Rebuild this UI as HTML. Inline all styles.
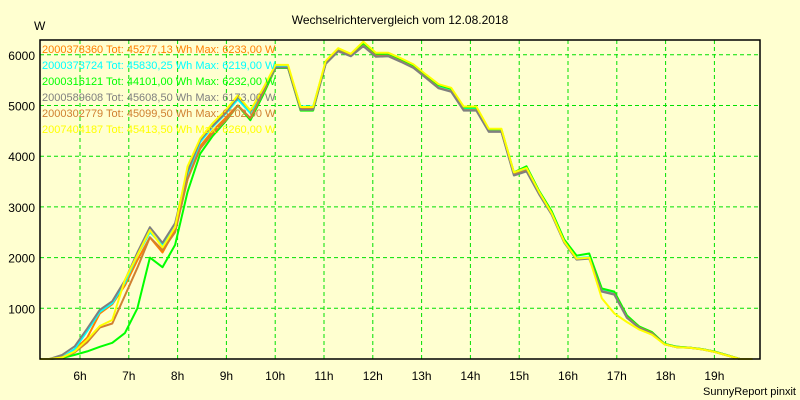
<!DOCTYPE html>
<html><head><meta charset="utf-8"><style>
html,body{margin:0;padding:0;background:#ffffd0;}
svg{display:block;font-family:"Liberation Sans",sans-serif;}
</style></head><body>
<svg id="chart" width="800" height="400" xmlns="http://www.w3.org/2000/svg">
<rect x="0" y="0" width="800" height="400" fill="#ffffd0"/>
<text x="400" y="24" text-anchor="middle" font-size="12" fill="#000">Wechselrichtervergleich vom 12.08.2018</text>
<text x="34" y="30" font-size="12" fill="#000">W</text>
<text x="796" y="395" text-anchor="end" font-size="11" fill="#000">SunnyReport pinxit</text>
<g id="grid"></g><g id="series"></g><g id="axes"></g><g id="legend"></g>
</svg>
<script>
const hourTicks=[6,7,8,9,10,11,12,13,14,15,16,17,18,19];
const yTicks=[1000,2000,3000,4000,5000,6000];
const seriesNames=["2000378360","2000373724","2000316121","2000589608","2000302779","2007404187"];
const seriesTotals=["45277,13","45830,25","44101,00","45608,50","45099,50","45413,50"];
const seriesMax=["6233,00","6219,00","6232,00","6173,00","6202,00","6260,00"];
const sOrange=[0,0,40,180,420,900,1080,1450,1950,2400,2100,2550,3550,4200,4500,4750,5000,4750,5250,5760,5760,4930,4930,5840,6090,5990,6200,5990,5990,5880,5760,5560,5370,5300,4930,4930,4500,4500,3650,3730,3280,2880,2320,1980,2000,1350,1290,830,630,520,300,240,225,195,145,75,0,0];
const sCyan=[0,0,30,200,550,930,1100,1500,2050,2500,2250,2600,3650,4280,4580,4830,5120,4850,5280,5770,5770,4980,4980,5850,6100,5980,6190,6000,6000,5890,5770,5570,5380,5310,4940,4940,4510,4510,3660,3740,3290,2890,2330,1990,2010,1360,1300,830,630,520,300,240,225,195,145,75,0,0];
const sGreen=[0,0,20,80,150,240,320,510,1000,2000,1810,2250,3300,4050,4400,4680,5000,4710,5200,5740,5740,4900,4900,5830,6080,5990,6210,6010,6020,5910,5790,5590,5400,5330,4960,4960,4530,4530,3680,3800,3320,2920,2360,2040,2080,1390,1330,860,640,530,300,240,225,195,145,75,0,0];
const sGray=[0,0,80,250,600,970,1140,1550,2100,2600,2290,2680,3700,4320,4600,4850,5170,4900,5300,5750,5750,4920,4920,5820,6070,5970,6170,5960,5970,5860,5740,5540,5340,5270,4900,4900,4480,4480,3620,3700,3250,2850,2300,1960,1980,1330,1270,810,610,500,290,230,220,190,140,70,0,0];
const sBrown=[0,0,30,130,330,620,700,1250,1800,2400,2150,2500,3550,4150,4450,4700,5000,4750,5250,5750,5750,4920,4920,5830,6080,5980,6180,5980,5980,5870,5750,5550,5350,5280,4910,4910,4490,4490,3640,3720,3270,2870,2310,1970,1990,1340,1280,820,620,510,290,230,220,190,140,70,0,0];
const sYellow=[0,0,30,150,380,650,770,1560,2050,2540,2200,2600,3800,4350,4650,4900,5200,4900,5330,5800,5800,4970,4970,5880,6130,6020,6260,6040,6040,5930,5810,5610,5420,5350,4980,4980,4540,4540,3680,3770,3300,2880,2320,1980,2000,1200,900,730,580,480,290,230,220,190,140,70,0,0];
const seriesData=[sOrange,sCyan,sGreen,sGray,sBrown,sYellow];
const seriesColors=["#ff8000","#00ffff","#00ff00","#808080","#d08030","#ffff00"];
const drawOrder=[0,1,2,4,3,5];
const NS="http://www.w3.org/2000/svg";
const L=40,R=760,T=40,B=359;
function yScale(v){return B-v*0.0507;}
function xIndex(k){return 37+k*12.55;}
function xHour(h){return 80+(h-6)*48.8;}
function mk(tag,attrs,parent){const e=document.createElementNS(NS,tag);for(const k in attrs)e.setAttribute(k,attrs[k]);parent.appendChild(e);return e;}
const grid=document.getElementById('grid'),axes=document.getElementById('axes'),ser=document.getElementById('series'),leg=document.getElementById('legend');
hourTicks.forEach(h=>{const x=xHour(h);
 const g=mk('line',{x1:x,x2:x,y1:T,y2:B,stroke:'#00e000','stroke-dasharray':'4,3','stroke-width':1},grid);
 
 
 const t=mk('text',{x:x,y:380,'text-anchor':'middle','font-size':12,fill:'#000'},axes);t.textContent=h+'h';
 
 
});
yTicks.forEach(v=>{const y=yScale(v);
 const g=mk('line',{x1:L,x2:R,y1:y,y2:y,stroke:'#00e000','stroke-dasharray':'4,3','stroke-width':1},grid);
 
 
 const t=mk('text',{x:35,y:y+5,'text-anchor':'end','font-size':12,fill:'#000'},axes);t.textContent=v;
 
 
});
drawOrder.forEach(i=>{const d=seriesData[i].map((v,k)=>Math.max(L,Math.min(R,xIndex(k))).toFixed(1)+','+yScale(v).toFixed(1)).join(' ');
 const p=mk('polyline',{points:d,fill:'none',stroke:seriesColors[i],'stroke-width':2,'stroke-linejoin':'round'},ser);
 
 
});
const fr=mk('rect',{x:L,y:T,width:R-L,height:B-T,fill:'none',stroke:'#000','stroke-width':1.5},axes);


seriesNames.forEach((n,i)=>{const t=mk('text',{x:42,y:53+i*16,'font-size':11,fill:seriesColors[i]},leg);
 t.textContent=n+' Tot: '+seriesTotals[i]+' Wh Max: '+seriesMax[i]+' W';
 
 
});
</script>
</body></html>
